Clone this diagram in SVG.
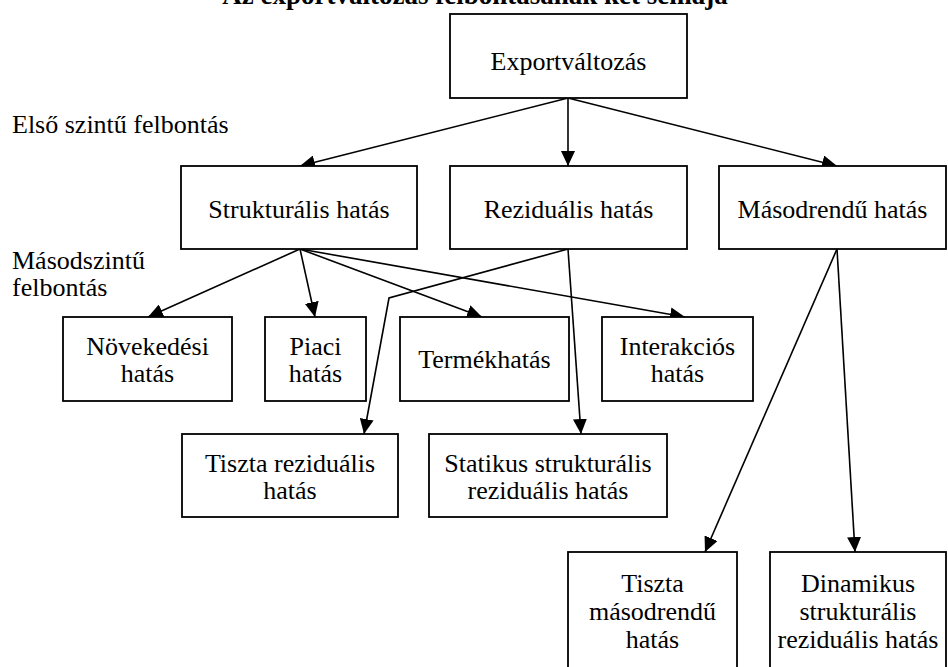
<svg xmlns="http://www.w3.org/2000/svg" width="948" height="667" viewBox="0 0 948 667">
<style>
  .box { fill: #ffffff; stroke: #000000; stroke-width: 1.8; }
  .t { font-family: "Liberation Serif", "Times New Roman", serif; font-size: 26px; fill: #000000; text-anchor: middle; }
  .lbl { font-family: "Liberation Serif", "Times New Roman", serif; font-size: 26px; fill: #000000; }
  .title { font-family: "Liberation Serif", "Times New Roman", serif; font-size: 27px; font-weight: bold; fill: #000000; text-anchor: middle; }
  .edge { fill: none; stroke: #000000; stroke-width: 1.6; marker-end: url(#arrow); }
</style>
<defs>
  <marker id="arrow" markerUnits="userSpaceOnUse" markerWidth="16" markerHeight="14" refX="15" refY="7" orient="auto">
    <path d="M0,0 L15,7 L0,14 z" fill="#000000"/>
  </marker>
</defs>
<rect width="948" height="667" fill="#ffffff"/>
<text class="title" x="475" y="4">Az exportváltozás felbontásának két sémája</text>
<text class="lbl" x="12" y="133">Első szintű felbontás</text>
<text class="lbl" x="12" y="269">Másodszintű</text>
<text class="lbl" x="12" y="296">felbontás</text>

<g id="connectors">
  <line class="edge" x1="568" y1="98" x2="300" y2="166"/>
  <line class="edge" x1="568" y1="98" x2="568" y2="166"/>
  <line class="edge" x1="568" y1="98" x2="837" y2="166"/>
  <line class="edge" x1="300" y1="249" x2="148" y2="317"/>
  <line class="edge" x1="300" y1="249" x2="315" y2="317"/>
  <line class="edge" x1="300" y1="249" x2="482" y2="317"/>
  <line class="edge" x1="300" y1="249" x2="685" y2="317"/>
  <polyline class="edge" points="568,249 389,298 364,434"/>
  <line class="edge" x1="568" y1="249" x2="581" y2="434"/>
  <line class="edge" x1="837" y1="249" x2="705" y2="552"/>
  <line class="edge" x1="837" y1="249" x2="855" y2="552"/>
</g>

<g id="n-export">
  <rect class="box" x="450" y="14" width="237" height="84"/>
  <text class="t" x="568.5" y="70">Exportváltozás</text>
</g>
<g id="n-strukturalis">
  <rect class="box" x="181" y="166" width="236" height="83"/>
  <text class="t" x="299" y="218">Strukturális hatás</text>
</g>
<g id="n-rezidualis">
  <rect class="box" x="450" y="166" width="237" height="83"/>
  <text class="t" x="568.5" y="218">Reziduális hatás</text>
</g>
<g id="n-masodrendu">
  <rect class="box" x="719" y="166" width="227" height="83"/>
  <text class="t" x="832.5" y="218">Másodrendű hatás</text>
</g>
<g id="n-novekedesi">
  <rect class="box" x="63" y="317" width="169" height="84"/>
  <text class="t" x="147.5" y="355">Növekedési</text>
  <text class="t" x="147.5" y="382">hatás</text>
</g>
<g id="n-piaci">
  <rect class="box" x="265" y="317" width="101" height="84"/>
  <text class="t" x="315.5" y="355">Piaci</text>
  <text class="t" x="315.5" y="382">hatás</text>
</g>
<g id="n-termekhatas">
  <rect class="box" x="400" y="317" width="169" height="84"/>
  <text class="t" x="484.5" y="368">Termékhatás</text>
</g>
<g id="n-interakcios">
  <rect class="box" x="602" y="317" width="151" height="84"/>
  <text class="t" x="677.5" y="355">Interakciós</text>
  <text class="t" x="677.5" y="382">hatás</text>
</g>
<g id="n-tiszta-rezidualis">
  <rect class="box" x="182" y="434" width="216" height="83"/>
  <text class="t" x="290" y="472">Tiszta reziduális</text>
  <text class="t" x="290" y="499">hatás</text>
</g>
<g id="n-statikus">
  <rect class="box" x="429" y="434" width="238" height="83"/>
  <text class="t" x="548" y="472">Statikus strukturális</text>
  <text class="t" x="548" y="499">reziduális hatás</text>
</g>
<g id="n-tiszta-masodrendu">
  <rect class="box" x="568" y="552" width="169" height="140"/>
  <text class="t" x="652.5" y="592">Tiszta</text>
  <text class="t" x="652.5" y="620">másodrendű</text>
  <text class="t" x="652.5" y="648">hatás</text>
</g>
<g id="n-dinamikus">
  <rect class="box" x="770" y="552" width="176" height="140"/>
  <text class="t" x="858" y="592">Dinamikus</text>
  <text class="t" x="858" y="620">strukturális</text>
  <text class="t" x="858" y="648">reziduális hatás</text>
</g>
</svg>
